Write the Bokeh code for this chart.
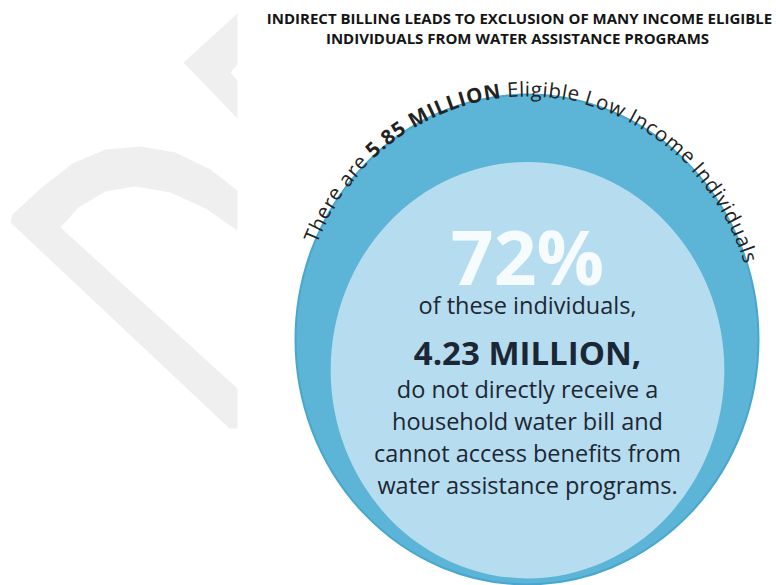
import numpy as np
from bokeh.plotting import figure
from bokeh.models import ColumnDataSource
from bokeh.core.properties import value
from bokeh.embed import file_html
from bokeh.resources import INLINE

# ---------------- data ----------------
title_lines = ["INDIRECT BILLING LEADS TO EXCLUSION OF MANY INCOME ELIGIBLE",
               "INDIVIDUALS FROM WATER ASSISTANCE PROGRAMS"]
arc_segments = ["There are ", "5.85 MILLION", " Eligible Low Income Individuals"]
arc_bold = [False, True, False]
eligible_millions = 5.85
indirect_millions = 4.23
share_pct = 72
share_label = "72%"
lead_line = "of these individuals,"
count_line = "4.23 MILLION,"
body_lines = ["do not directly receive a",
              "household water bill and",
              "cannot access benefits from",
              "water assistance programs."]

# ---------------- layout / style ----------------
W, H = 780, 585
FONT = "Open Sans"
OUTER_COLOR = "#5cb4d7"
OUTER_EDGE = "#48a7cf"
INNER_COLOR = "#b6dcef"
TEXT_DARK = "#1c2733"
LOGO_GRAY = "#efefef"

def Y(py):
    return H - py

p = figure(width=W, height=H, x_range=(0, W), y_range=(0, H),
           x_axis_type=None, y_axis_type=None, toolbar_location=None,
           output_backend="svg", min_border=0)
p.grid.visible = False
p.outline_line_color = None
p.background_fill_color = "white"
p.border_fill_color = "white"

# ---- faded watermark logo on the left ----
logo_top = [(237, 13), (183, 62), (237, 118), (237, 80), (230, 72), (237, 64)]
logo_bottom = [(12, 214), (40, 188), (72, 163), (105, 149), (140, 146), (175, 152),
               (210, 169), (237, 190), (237, 230), (205, 208), (170, 192), (135, 186),
               (105, 191), (78, 207), (60, 227), (237, 388), (237, 428), (229, 428),
               (10, 222)]
for shape in (logo_top, logo_bottom):
    p.patch([q[0] for q in shape], [Y(q[1]) for q in shape],
            fill_color=LOGO_GRAY, line_color=None)

# ---- circles: area proportional to the counts ----
outer_cx, outer_cy = 526.5, 339.0
outer_w, outer_h = 463.0, 490.0
scale = np.sqrt(indirect_millions / eligible_millions)
inner_w, inner_h = outer_w * scale, outer_h * scale
inner_cx = outer_cx + 0.5
inner_cy = outer_cy + outer_h / 2 - 6 - inner_h / 2

p.ellipse(x=[outer_cx], y=[Y(outer_cy)], width=outer_w, height=outer_h,
          fill_color=OUTER_COLOR, line_color=OUTER_EDGE, line_width=2)
p.ellipse(x=[inner_cx], y=[Y(inner_cy)], width=inner_w, height=inner_h,
          fill_color=INNER_COLOR, line_color=None)

# ---- curved text along outer circle ----
reg_w = {' ': .26, 'a': .556, 'b': .613, 'c': .476, 'd': .613, 'e': .561, 'g': .548,
         'h': .614, 'i': .253, 'l': .253, 'm': .930, 'n': .614, 'o': .604, 'r': .408,
         's': .477, 'u': .614, 'v': .501, 'w': .778, 'E': .551, 'I': .274, 'L': .52,
         'T': .543}
bold_w = {' ': .26, '5': .572, '8': .572, '.': .297, 'M': .965, 'I': .345, 'L': .563,
          'O': .803, 'N': .795}
fs = 20.5
ta, tb = outer_w / 2 + 5, outer_h / 2 + 6
ts = np.linspace(np.pi, 0, 4000)
px = outer_cx + ta * np.cos(ts)
py = Y(outer_cy) + tb * np.sin(ts)
seg = np.hypot(np.diff(px), np.diff(py))
sarc = np.concatenate([[0], np.cumsum(seg)])
t_start, t_end = np.radians(157), np.radians(18)
s_start = np.interp(-t_start, -ts, sarc)
s_end = np.interp(-t_end, -ts, sarc)

chars = []
for txt, b in zip(arc_segments, arc_bold):
    for ch in txt:
        chars.append((ch, b, (bold_w if b else reg_w).get(ch, .55) * fs))
total = sum(c[2] for c in chars)
spacing = (s_end - s_start) / total
cum = s_start
rows = {True: dict(x=[], y=[], t=[], a=[]), False: dict(x=[], y=[], t=[], a=[])}
for ch, b, w in chars:
    smid = cum + w * spacing / 2
    cum += w * spacing
    t = np.interp(smid, sarc, ts)
    xx = outer_cx + ta * np.cos(t)
    yy = Y(outer_cy) + tb * np.sin(t)
    ang = np.arctan2(-tb * np.cos(t), ta * np.sin(t))
    if ch == ' ':
        continue
    r = rows[b]
    r['x'].append(xx); r['y'].append(yy); r['t'].append(ch); r['a'].append(ang)
for b, r in rows.items():
    p.text(x='x', y='y', text='t', angle='a', source=ColumnDataSource(r),
           text_font=value(FONT), text_font_size=f"{fs}px",
           text_font_style="bold" if b else "normal",
           text_color="#222222", text_align="center", text_baseline="alphabetic")

# ---- title ----
p.text(x=[519, 517], y=[Y(17), Y(37)], text=title_lines,
       text_font=value(FONT), text_font_size="15px", text_font_style="bold",
       text_color="#151515", text_align="center", text_baseline="middle")

# ---- centre texts ----
p.text(x=[inner_cx], y=[Y(255)], text=[share_label], text_font=value(FONT),
       text_font_size="75px", text_font_style="bold", text_color="#f6fbfe",
       text_align="center", text_baseline="middle")
p.text(x=[inner_cx], y=[Y(304)], text=[lead_line], text_font=value(FONT),
       text_font_size="23.5px", text_color=TEXT_DARK,
       text_align="center", text_baseline="middle")
p.text(x=[inner_cx], y=[Y(352)], text=[count_line], text_font=value(FONT),
       text_font_size="33px", text_font_style="bold", text_color="#1b2735",
       text_align="center", text_baseline="middle")
p.text(x=[inner_cx] * len(body_lines),
       y=[Y(388 + 32 * i) for i in range(len(body_lines))],
       text=body_lines, text_font=value(FONT), text_font_size="23.5px",
       text_color=TEXT_DARK, text_align="center", text_baseline="middle")

open("out.html", "w").write(file_html(p, INLINE))
